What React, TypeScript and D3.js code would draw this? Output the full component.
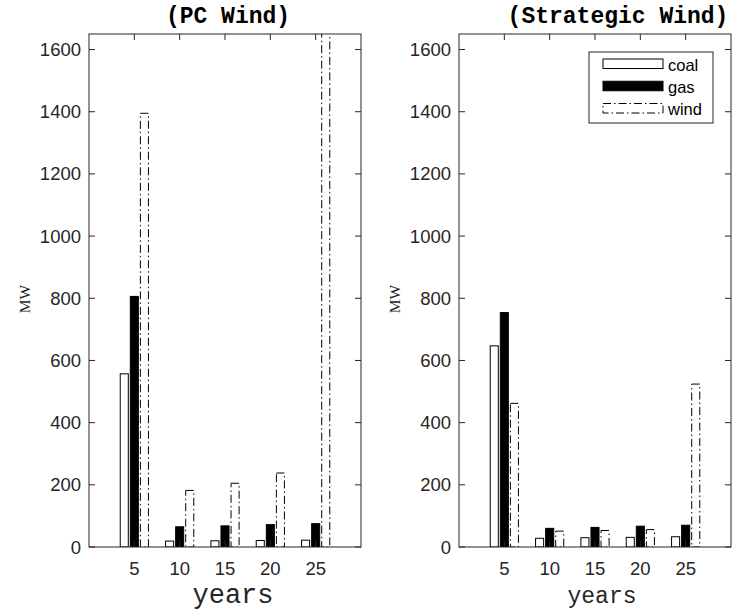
import React from "react";
import * as d3 from "d3";

const categories = ["5", "10", "15", "20", "25"];
const seriesNames = ["coal", "gas", "wind"];
const pcCoal = [557, 19, 20, 21, 22];
const pcGas = [806, 65, 68, 72, 75];
const pcWind = [1395, 182, 205, 238, 1700];
const stCoal = [647, 28, 30, 31, 33];
const stGas = [754, 60, 63, 67, 70];
const stWind = [462, 51, 53, 56, 524];
const yTicks = [0, 200, 400, 600, 800, 1000, 1200, 1400, 1600];
const yMax = 1650;

const AX = "#262626";
const DASH = "8,3,1.5,3";
const MONO = "Liberation Mono, Courier New, monospace";
const SANS = "Liberation Sans, Arial, sans-serif";

type PanelProps = {
  id: string;
  x0: number;
  x1: number;
  title: string;
  titleX: number;
  data: number[][];
  xlabelSize: number;
  xlabelX: number;
  xlabelY: number;
  legend?: boolean;
};

function Panel({ id, x0, x1, title, titleX, data, xlabelSize, xlabelX, xlabelY, legend }: PanelProps) {
  const yTop = 34;
  const yBot = 547;
  const x = d3.scaleLinear().domain([0, categories.length + 1]).range([x0, x1]);
  const y = d3.scaleLinear().domain([0, yMax]).range([yBot, yTop]);
  const gw = Math.min(0.8, 3 / (3 + 1.5));
  const step = gw / 3;
  const bw = step * 0.8;
  const tl = 6;
  const styles = [
    { fill: "white", stroke: "black", dash: undefined as string | undefined },
    { fill: "black", stroke: "black", dash: undefined as string | undefined },
    { fill: "none", stroke: "black", dash: DASH },
  ];
  return (
    <g>
      <defs>
        <clipPath id={id}>
          <rect x={x0} y={yTop} width={x1 - x0} height={yBot - yTop} />
        </clipPath>
      </defs>
      <g clipPath={`url(#${id})`}>
        {data.map((vals, s) =>
          vals.map((v, i) => {
            const cx = x(i + 1 + (s - 1) * step);
            const w = x(bw) - x(0);
            const left = cx - w / 2;
            return (
              <rect
                key={`${s}-${i}`}
                x={left}
                y={y(v)}
                width={w}
                height={y(0) - y(v)}
                fill={styles[s].fill}
                stroke={styles[s].stroke}
                strokeWidth={1}
                strokeDasharray={styles[s].dash}
              />
            );
          })
        )}
      </g>
      <rect x={x0} y={yTop} width={x1 - x0} height={yBot - yTop} fill="none" stroke={AX} strokeWidth={1} />
      {categories.map((c, i) => (
        <g key={c}>
          <line x1={x(i + 1)} x2={x(i + 1)} y1={yBot} y2={yBot - tl} stroke={AX} />
          <line x1={x(i + 1)} x2={x(i + 1)} y1={yTop} y2={yTop + tl} stroke={AX} />
          <text x={x(i + 1)} y={575} textAnchor="middle" fontFamily={SANS} fontSize={18.5} fill={AX}>
            {c}
          </text>
        </g>
      ))}
      {yTicks.map((t) => (
        <g key={t}>
          <line x1={x0} x2={x0 + tl} y1={y(t)} y2={y(t)} stroke={AX} />
          <line x1={x1} x2={x1 - tl} y1={y(t)} y2={y(t)} stroke={AX} />
          <text x={x0 - 8} y={y(t) + 6.5} textAnchor="end" fontFamily={SANS} fontSize={18.5} fill={AX}>
            {t}
          </text>
        </g>
      ))}
      <text x={titleX} y={23} textAnchor="middle" fontFamily={MONO} fontWeight="bold" fontSize={23} fill="black">
        {title}
      </text>
      <text
        transform={`translate(${x0 - 59},299) rotate(-90)`}
        textAnchor="middle"
        fontFamily="Liberation Serif, Times New Roman, serif"
        fontSize={15.5}
        fill={AX}
      >
        MW
      </text>
      <text x={xlabelX} y={xlabelY} textAnchor="middle" fontFamily={MONO} fontSize={xlabelSize} fill={AX}>
        years
      </text>
      {legend && (
        <g>
          <rect x={589} y={52} width={124} height={71} fill="white" stroke={AX} strokeWidth={1} />
          {seriesNames.map((n, s) => {
            const ly = 59 + s * 22.25;
            return (
              <g key={n}>
                <rect
                  x={603}
                  y={ly}
                  width={60}
                  height={9.5}
                  fill={styles[s].fill === "none" ? "white" : styles[s].fill}
                  stroke="black"
                  strokeDasharray={styles[s].dash}
                />
                <text x={668} y={ly + 11.5} fontFamily={SANS} fontSize={16.5} fill="black">
                  {n}
                </text>
              </g>
            );
          })}
        </g>
      )}
    </g>
  );
}

export default function App() {
  return (
    <svg width={733} height={613} style={{ position: "absolute", left: 0, top: 0, background: "white" }}>
      <rect width={733} height={613} fill="white" />
      <Panel id="clipL" x0={89} x1={361} title="(PC Wind)" titleX={228} data={[pcCoal, pcGas, pcWind]} xlabelSize={27} xlabelX={233} xlabelY={603} />
      <Panel id="clipR" x0={459} x1={731} title="(Strategic Wind)" titleX={618} data={[stCoal, stGas, stWind]} xlabelSize={23} xlabelX={602} xlabelY={603} legend />
    </svg>
  );
}
